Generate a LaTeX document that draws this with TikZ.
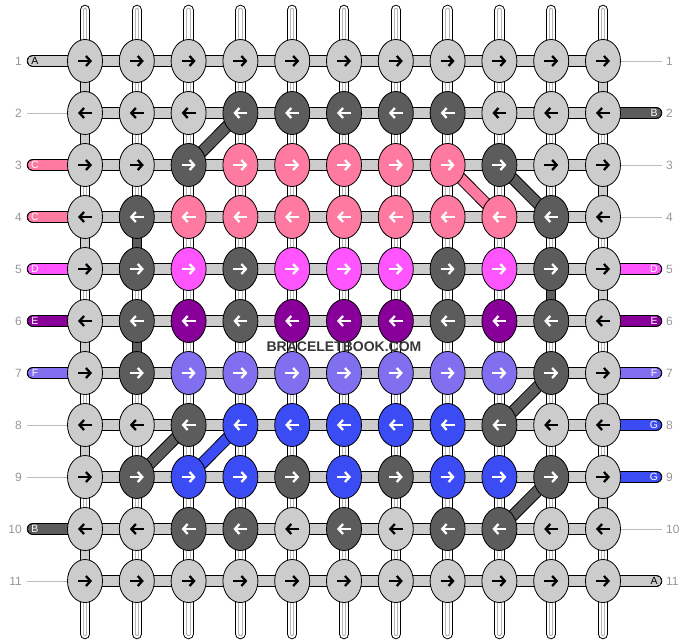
\documentclass[tikz,border=0pt]{standalone}
\usepackage{fontspec}
\setmainfont{Liberation Sans}
\usetikzlibrary{shapes.geometric,arrows.meta}
\definecolor{knotL}{RGB}{204,204,204}
\definecolor{knotD}{RGB}{92,92,92}
\definecolor{knotP}{RGB}{255,122,160}
\definecolor{knotM}{RGB}{255,85,255}
\definecolor{knotV}{RGB}{136,0,153}
\definecolor{knotF}{RGB}{128,112,240}
\definecolor{knotB}{RGB}{60,76,245}
\colorlet{txtL}{black}
\colorlet{txtD}{white}
\colorlet{txtP}{white}
\colorlet{txtM}{white}
\colorlet{txtV}{white}
\colorlet{txtF}{white}
\colorlet{txtB}{white}
\definecolor{numgray}{RGB}{150,150,150}
\definecolor{wmgray}{RGB}{55,55,55}
\tikzstyle{knot}=[ellipse,draw=black,line width=0.8pt,minimum width=35pt,
  minimum height=43pt,inner sep=0pt]
\tikzstyle{strand}=[line width=10.5pt,draw=black,line cap=round,
  postaction={draw=white,line width=8.5pt},
  postaction={draw=knotL!70!gray,line width=4.5pt},
  postaction={draw=white,line width=2.5pt}]
\tikzstyle{hbar}=[line width=12.5pt,draw=black,postaction={draw=knotL,line width=10.5pt}]
\tikzstyle{numline}=[draw=knotL!80!gray,line width=0.8pt]
\tikzstyle{rownum}=[text=numgray,font=\fontsize{12}{12}\selectfont,inner sep=0pt]
\tikzstyle{letter}=[font=\fontsize{10.5}{10.5}\selectfont,inner sep=0pt]
\tikzstyle{arrline}=[line width=2.3pt,line cap=butt,
  -{Straight Barb[length=4.5pt,width=10pt,line cap=butt]}]
\tikzset{
  vfill/.style={line width=10.5pt,draw=black,postaction={draw=#1,line width=8.5pt}},
  diag/.style={line width=12pt,draw=black,postaction={draw=#1,line width=10pt}},
  thread/.style={line width=12.5pt,draw=black,line cap=round,
    postaction={draw=#1,line width=10.5pt}},
  goright/.style={path picture={\draw[arrline,draw=#1]
    ([xshift=-7pt]path picture bounding box.center) --
    ([xshift=7pt]path picture bounding box.center);}},
  goleft/.style={path picture={\draw[arrline,draw=#1]
    ([xshift=7pt]path picture bounding box.center) --
    ([xshift=-7pt]path picture bounding box.center);}}
}

\begin{document}
\begin{tikzpicture}[x=1pt,y=-1pt]
  \useasboundingbox (0,0) rectangle (688,644);
  % knot centres
  \foreach \r in {1,...,11}
    \foreach \c in {1,...,11}
      \coordinate (p-\r-\c) at ({85+(\c-1)*51.8},{61+(\r-1)*52});
  % vertical strings
  \foreach \c in {1,...,11}{
    \coordinate (t-\c) at ({85+(\c-1)*51.8},10);
    \coordinate (b-\c) at ({85+(\c-1)*51.8},634);
    \draw[strand] (t-\c) -- (b-\c);
  }
  % carried threads
  \foreach \c/\ia/\ib/\col in {1/1/2/knotL,1/2/3/knotL,1/4/5/knotL,1/6/7/knotL,
      1/8/9/knotL,1/10/11/knotL,11/1/2/knotL,11/3/4/knotL,11/5/6/knotL,
      11/7/8/knotL,11/9/10/knotL,2/4/5/knotD,2/6/7/knotD,10/5/6/knotD}
    \draw[vfill=\col] (p-\ia-\c) -- (p-\ib-\c);
  % rows
  \foreach \r in {1,...,11}
    \draw[hbar] (p-\r-1) -- (p-\r-11);
  % thread ends, left
  \foreach \r/\col/\ltr/\tc in {1/knotL/A/black,3/knotP/C/white,4/knotP/C/white,
      5/knotM/D/white,6/knotV/E/white,7/knotF/F/white,10/knotD/B/white}{
    \coordinate (tl-\r) at (33,{61+(\r-1)*52});
    \draw[thread=\col] (tl-\r) -- (p-\r-1);
    \node[letter,text=\tc] (lt-\r) at ([xshift=2pt]tl-\r) {\ltr};
  }
  % thread ends, right
  \foreach \r/\col/\ltr/\tc in {2/knotD/B/white,5/knotM/D/white,6/knotV/E/white,
      7/knotF/F/white,8/knotB/G/white,9/knotB/G/white,11/knotL/A/black}{
    \coordinate (tr-\r) at (656,{61+(\r-1)*52});
    \draw[thread=\col] (p-\r-11) -- (tr-\r);
    \node[letter,text=\tc] (rt-\r) at ([xshift=-2pt]tr-\r) {\ltr};
  }
  % plain row ends
  \foreach \r in {2,8,9,11}{
    \coordinate (ml-\r) at (27,{61+(\r-1)*52});
    \draw[numline] (ml-\r) -- (p-\r-1);
  }
  \foreach \r in {1,3,4,10}{
    \coordinate (mr-\r) at (662,{61+(\r-1)*52});
    \draw[numline] (p-\r-11) -- (mr-\r);
  }
  % diagonals
  \draw[diag=knotD] (p-2-4) -- (p-3-3);
  \draw[diag=knotP] (p-3-8) -- (p-4-9);
  \draw[diag=knotD] (p-3-9) -- (p-4-10);
  \draw[diag=knotD] (p-7-10) -- (p-8-9);
  \draw[diag=knotD] (p-8-3) -- (p-9-2);
  \draw[diag=knotB] (p-8-4) -- (p-9-3);
  \draw[diag=knotD] (p-9-10) -- (p-10-9);
  % knots
  \foreach \r/\cols in {1/{L,L,L,L,L,L,L,L,L,L,L},2/{L,L,L,D,D,D,D,D,L,L,L},
      3/{L,L,D,P,P,P,P,P,D,L,L},4/{L,D,P,P,P,P,P,P,P,D,L},
      5/{L,D,M,D,M,M,M,D,M,D,L},6/{L,D,V,D,V,V,V,D,V,D,L},
      7/{L,D,F,F,F,F,F,F,F,D,L},8/{L,L,D,B,B,B,B,B,D,L,L},
      9/{L,D,B,B,D,B,D,B,B,D,L},10/{L,L,D,D,L,D,L,D,D,L,L},
      11/{L,L,L,L,L,L,L,L,L,L,L}}
    \foreach \k [count=\c] in \cols {
      \ifodd\r \def\way{goright}\else \def\way{goleft}\fi
      \node[knot,fill=knot\k,\way=txt\k] (k-\r-\c) at (p-\r-\c) {};
    }
  % row numbers
  \foreach \r in {1,...,11}{
    \node[rownum,anchor=east] (nl-\r) at (22,{61+(\r-1)*52}) {\r};
    \node[rownum,anchor=west] (nr-\r) at (666,{61+(\r-1)*52}) {\r};
  }
  \node[text=wmgray,font=\bfseries\fontsize{14}{14}\selectfont] (wm) at (344,347) {BRACELETBOOK.COM};
\end{tikzpicture}
\end{document}
